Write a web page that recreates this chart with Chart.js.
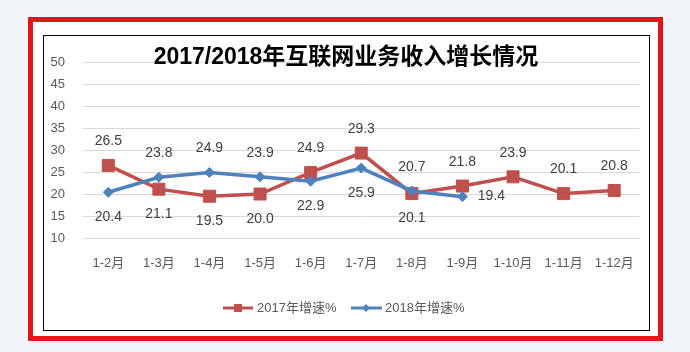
<!DOCTYPE html>
<html>
<head>
<meta charset="utf-8">
<script src="https://cdn.jsdelivr.net/npm/chart.js@4.4.0/dist/chart.umd.min.js"></script>
<style>
  body { margin: 0; background: #f2f5f9; width: 690px; height: 352px; position: relative; overflow: hidden; }
  #frame { position: absolute; left: 28px; top: 17px; width: 625px; height: 314px; border: 5px solid #e3151a; background: #fff; }
  #box { position: absolute; left: 43px; top: 35px; width: 605px; height: 294px; border: 1px solid #000; background: #fff; }
  canvas { display: block; }
</style>
</head>
<body>
<div id="frame"></div>
<div id="box"><canvas id="chartOne" width="605" height="294"></canvas></div>
<script>
// data
const months = ['1-2月', '1-3月', '1-4月', '1-5月', '1-6月', '1-7月', '1-8月', '1-9月', '1-10月', '1-11月', '1-12月'];
const growth2017 = [26.5, 21.1, 19.5, 20.0, 24.9, 29.3, 20.1, 21.8, 23.9, 20.1, 20.8];
const growth2018 = [20.4, 23.8, 24.9, 23.9, 22.9, 25.9, 20.7, 19.4, null, null, null];
// where each value label sits relative to its point
const labelPos2017 = ['up', 'down', 'down', 'down', 'up', 'up', 'down', 'up', 'up', 'up', 'up'];
const labelPos2018 = ['down', 'up', 'up', 'up', 'down', 'down', 'up', 'right'];
const titleText = '2017/2018年互联网业务收入增长情况';

const fontFamily = '"Liberation Sans", "Noto Sans CJK SC", sans-serif';
const red = '#c0504d';
const blue = '#4f81bd';

//labels + title + legend
const extras = {
  id: 'extras',
  afterDatasetsDraw(chart) {
    const ctx = chart.ctx;
    ctx.save();
    ctx.font = '14px ' + fontFamily;
    ctx.fillStyle = '#404040';
    ctx.textAlign = 'center';
    ctx.textBaseline = 'middle';
    chart.data.datasets.forEach((ds, i) => {
      const meta = chart.getDatasetMeta(i);
      meta.data.forEach((pt, j) => {
        const v = ds.data[j];
        if (v === null) return;
        const pos = ds.labelPos[j];
        let x = pt.x, y = pt.y;
        if (pos === 'up') y -= 24;
        else if (pos === 'down') y += 25;
        else x += 29;
        ctx.fillText(v.toFixed(1), x, y);
      });
    });

    // title
    ctx.font = 'bold 23px "Liberation Sans Narrow", "Liberation Sans", "Noto Sans CJK SC", sans-serif';
    ctx.fillStyle = '#000';
    ctx.fillText(titleText, 302, 22);

    // legend
    const ly = 272;
    ctx.font = '13px ' + fontFamily;
    ctx.fillStyle = '#595959';
    ctx.textAlign = 'left';
    ctx.lineWidth = 3;
    ctx.strokeStyle = red;
    ctx.beginPath(); ctx.moveTo(179, ly); ctx.lineTo(209, ly); ctx.stroke();
    ctx.fillStyle = red;
    ctx.fillRect(190, ly - 4, 8, 8);
    ctx.fillStyle = '#595959';
    ctx.fillText('2017年增速%', 213, ly);
    ctx.strokeStyle = blue;
    ctx.beginPath(); ctx.moveTo(307, ly); ctx.lineTo(338, ly); ctx.stroke();
    ctx.fillStyle = blue;
    ctx.beginPath();
    ctx.moveTo(322, ly - 4); ctx.lineTo(326, ly); ctx.lineTo(322, ly + 4); ctx.lineTo(318, ly);
    ctx.closePath(); ctx.fill();
    ctx.fillStyle = '#595959';
    ctx.fillText('2018年增速%', 341, ly);
    ctx.restore();
  }
};

const canvasOne = document.getElementById('chartOne');
const configOne = {
  type: 'line',
  data: {
    labels: months,
    datasets: [
      {
        label: '2017年增速%',
        data: growth2017,
        labelPos: labelPos2017,
        borderColor: red,
        backgroundColor: red,
        borderWidth: 3.5,
        pointStyle: 'rect',
        pointRadius: 8.5,
        pointBorderWidth: 1,
        tension: 0,
        order: 2,
      },
      {
        label: '2018年增速%',
        data: growth2018,
        labelPos: labelPos2018,
        borderColor: blue,
        backgroundColor: blue,
        borderWidth: 3.5,
        pointStyle: 'rectRot',
        pointRadius: 5,
        pointBorderWidth: 1,
        tension: 0,
        order: 1,
      },
    ],
  },
  options: {
    responsive: false,
    animation: false,
    layout: { padding: { top: 26, right: 1, left: 0, bottom: 0 } },
    plugins: { legend: { display: false }, title: { display: false }, tooltip: { enabled: false } },
    scales: {
      x: {
        offset: true,
        grid: { display: false },
        border: { display: false },
        ticks: { color: '#595959', font: { family: fontFamily, size: 13 }, padding: 10, maxRotation: 0 },
        afterFit(scale) { scale.height = 92; },
      },
      y: {
        min: 10,
        max: 50,
        ticks: { stepSize: 5, color: '#595959', font: { family: fontFamily, size: 13 }, padding: 18 },
        grid: { color: '#d9d9d9', drawTicks: false },
        border: { display: false },
        afterFit(scale) { scale.width = 39; },
      },
    },
  },
  plugins: [extras],
};

const chartOne = new Chart(canvasOne, configOne);
</script>
</body>
</html>
